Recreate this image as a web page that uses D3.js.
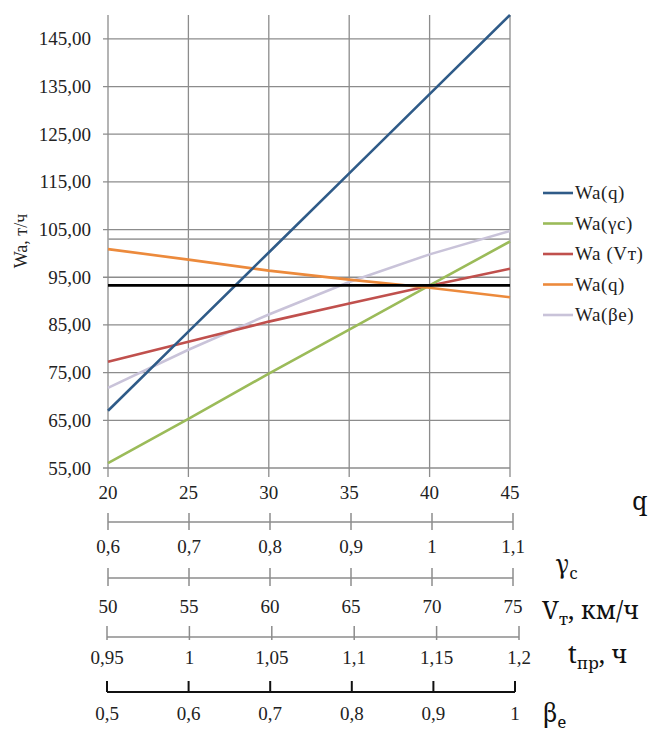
<!DOCTYPE html>
<html>
<head>
<meta charset="utf-8">
<script src="https://cdn.jsdelivr.net/npm/d3@7"></script>
<style>
  body { margin: 0; background: #fff; }
  svg { display: block; }
</style>
</head>
<body>
<div id="chart-area"></div>
<script>
// values
var qValues = [20, 25, 30, 35, 40, 45];
var waQ = [67, 83.6, 100.2, 116.8, 133.4, 150];
var waGamma = [56, 65.3, 74.8, 84, 93.3, 102.5];
var waV = [77.3, 81.5, 85.7, 89.5, 93.2, 96.8];
var waT = [100.9, 98.7, 96.4, 94.5, 92.8, 90.8];
var waBeta = [71.8, 79.8, 87.2, 94, 99.8, 104.7];
var waNorm = [93.3, 93.3, 93.3, 93.3, 93.3, 93.3];
var waLimit = [103, 103, 103, 103, 103, 103];

var yTicks = [55, 65, 75, 85, 95, 105, 115, 125, 135, 145];
var gammaTicks = [0.6, 0.7, 0.8, 0.9, 1, 1.1];
var vTicks = [50, 55, 60, 65, 70, 75];
var tTicks = [0.95, 1, 1.05, 1.1, 1.15, 1.2];
var betaTicks = [0.5, 0.6, 0.7, 0.8, 0.9, 1];

var legendNames = ["Wa(q)", "Wa(γc)", "Wa (Vт)", "Wa(q)", "Wa(βe)"];
var colors = ["#2f5b88", "#9bbb59", "#c0504d", "#ec8a3c", "#c9c3d9"];

var locale = d3.formatLocale({decimal: ",", thousands: " ", grouping: [3], currency: ["", ""]});
var fmt2 = locale.format(".2f");
var fmtG = locale.format("~g");

var serif = "'Liberation Serif', 'Times New Roman', serif";
var titleFont = "'Noto Serif', 'DejaVu Serif', serif";

var svg = d3.select("#chart-area").append("svg")
    .attr("width", 659)
    .attr("height", 735);

var x = d3.scaleLinear().domain([20, 45]).range([108, 510]);
var y = d3.scaleLinear().domain([55, 150]).range([468, 15]);

// grid
svg.append("g").selectAll("line.h").data(yTicks).enter().append("line")
    .attr("x1", 103).attr("x2", 510)
    .attr("y1", d => y(d)).attr("y2", d => y(d))
    .attr("stroke", "#8c8c8c").attr("stroke-width", 1.3);

svg.append("g").selectAll("line.v").data(qValues).enter().append("line")
    .attr("x1", d => x(d)).attr("x2", d => x(d))
    .attr("y1", 15).attr("y2", 477)
    .attr("stroke", "#8c8c8c").attr("stroke-width", 1.3);

// y labels
svg.append("g").selectAll("text").data(yTicks).enter().append("text")
    .attr("x", 91).attr("y", d => y(d) + 6.5)
    .attr("text-anchor", "end")
    .style("font-family", serif).style("font-size", "19px").attr("fill", "#222")
    .text(d => fmt2(d));

// q labels
svg.append("g").selectAll("text").data(qValues).enter().append("text")
    .attr("x", d => x(d)).attr("y", 499)
    .attr("text-anchor", "middle")
    .style("font-family", serif).style("font-size", "19px").attr("fill", "#222")
    .text(d => d);

svg.append("text")
    .attr("transform", "translate(27,241) rotate(-90)")
    .attr("text-anchor", "middle")
    .style("font-family", serif).style("font-size", "18px").attr("fill", "#222")
    .text("Wa, т/ч");

// series
var line = d3.line().x((d, i) => x(qValues[i])).y(d => y(d));

svg.append("path").datum(waLimit).attr("d", line)
    .attr("fill", "none").attr("stroke", "#a3a3a3").attr("stroke-width", 1.8);

var series = [waQ, waGamma, waV, waT, waBeta];
var order = [4, 2, 1, 3, 0];
order.forEach(function(k) {
    svg.append("path").datum(series[k]).attr("d", line)
        .attr("fill", "none").attr("stroke", colors[k]).attr("stroke-width", 2.6);
});

svg.append("path").datum(waNorm).attr("d", line)
    .attr("fill", "none").attr("stroke", "#000").attr("stroke-width", 2.6);

// legend
var legend = svg.append("g").selectAll("g").data(legendNames).enter().append("g")
    .attr("transform", (d, i) => "translate(543," + (193 + i * 30.5) + ")");
legend.append("line").attr("x1", 0).attr("x2", 30).attr("y1", 0).attr("y2", 0)
    .attr("stroke", (d, i) => colors[i]).attr("stroke-width", 2.6);
legend.append("text").attr("x", 32).attr("y", 6)
    .style("font-family", serif).style("font-size", "19px").attr("fill", "#222")
    .style("letter-spacing", "0.6px")
    .text(d => d);

// extra scales under the chart
function subAxis(ticks, r, lineY, t1, t2, labelY, color, width) {
    var s = d3.scaleLinear().domain([ticks[0], ticks[ticks.length - 1]]).range(r);
    var g = svg.append("g");
    g.append("line").attr("x1", r[0]).attr("x2", r[1]).attr("y1", lineY).attr("y2", lineY)
        .attr("stroke", color).attr("stroke-width", width);
    g.selectAll("line.t").data(ticks).enter().append("line")
        .attr("x1", d => s(d)).attr("x2", d => s(d))
        .attr("y1", lineY + t1).attr("y2", lineY + t2)
        .attr("stroke", color).attr("stroke-width", width);
    g.selectAll("text").data(ticks).enter().append("text")
        .attr("x", d => s(d)).attr("y", labelY)
        .attr("text-anchor", "middle")
        .style("font-family", serif).style("font-size", "19px").attr("fill", "#222")
        .text(d => fmtG(d));
}

subAxis(gammaTicks, [108, 513], 522, -9, 8, 553, "#8c8c8c", 1.5);
subAxis(vTicks, [108, 513], 578, -10, 8, 613, "#8c8c8c", 1.5);
subAxis(tTicks, [107, 519], 637, -11, 3, 664, "#8c8c8c", 1.5);
subAxis(betaTicks, [107, 515], 692, -11, 0, 720, "#111", 2);

// axis titles on the right
function title(xp, yp, main, sub, rest) {
    var t = svg.append("text").attr("x", xp).attr("y", yp)
        .style("font-family", titleFont).style("font-size", "25px").attr("fill", "#111");
    t.append("tspan").text(main);
    if (sub) t.append("tspan").attr("dy", 6).style("font-size", "17px").text(sub);
    if (rest) t.append("tspan").attr("dy", -6).text(rest);
}
title(632, 510, "q");
title(556, 573, "γ", "c");
title(542, 619, "V", "т", ", км/ч");
title(568, 663, "t", "пр", ", ч");
title(543, 722, "β", "e");
</script>
</body>
</html>
